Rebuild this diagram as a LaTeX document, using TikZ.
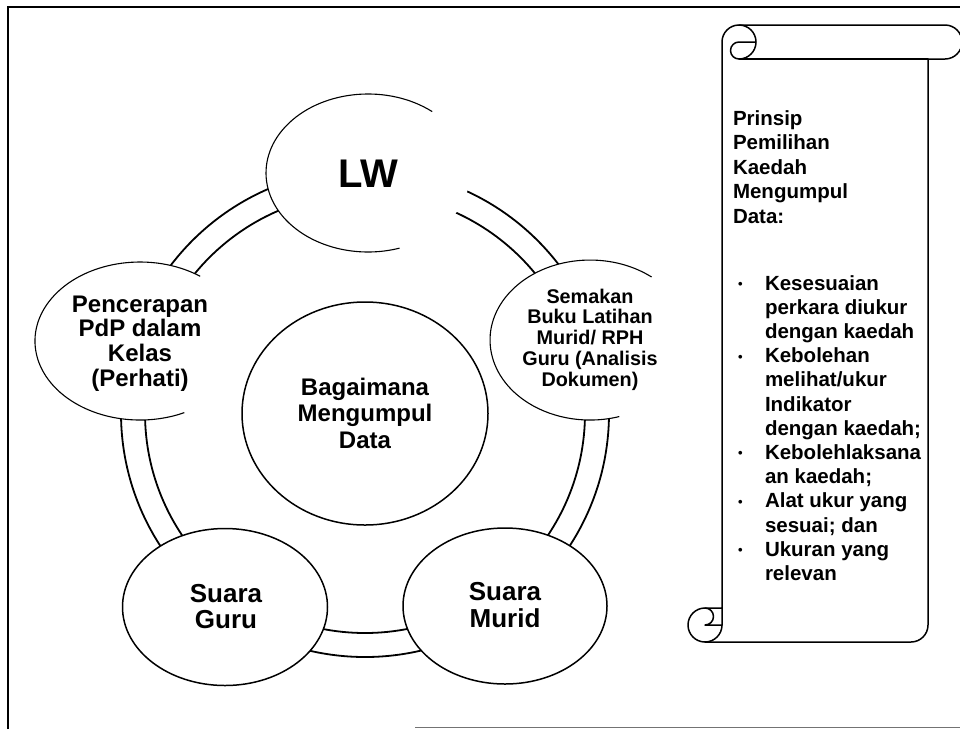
\documentclass[tikz,border=0pt]{standalone}
\usepackage{fontspec}
\setmainfont{Liberation Sans}
\usetikzlibrary{shapes.geometric}
\begin{document}
\begin{tikzpicture}[x=1pt,y=-1pt,
  bub/.style={ellipse, fill=white, draw=none, inner sep=0pt, outer sep=0pt},
  bubline/.style={bub, draw=black, line width=1.5pt},
  faint/.style={line width=1.1pt},
  ringline/.style={line width=1.8pt},
  txt/.style={inner sep=0pt, outer sep=0pt, anchor=base, font=\bfseries},
  ltxt/.style={inner sep=0pt, outer sep=0pt, anchor=base west, font=\bfseries},
  scrollline/.style={line width=1.5pt, line join=round, line cap=round},
  frameline/.style={line width=2.5pt}]
\useasboundingbox (0,0) rectangle (960,729);
% frame
\draw[frameline] (8,729) -- (8,7) -- (962,7);
\draw[line width=1pt, black!55] (415,727) -- (962,727);
% ring
\coordinate (ringc) at (365,413);
\draw[ringline] (ringc) circle[radius=244];
\draw[ringline] (ringc) circle[radius=220];
% centre
\node[bubline, minimum width=246pt, minimum height=223pt] (mid) at (365,413.5) {};
% outer bubbles
\node[bub, minimum width=204pt, minimum height=158pt] (lw) at (368,173) {};
\node[bub, minimum width=210pt, minimum height=158pt] (pen) at (140,341) {};
\node[bub, minimum width=200pt, minimum height=160pt] (sem) at (590,340) {};
\node[bubline, minimum width=205pt, minimum height=157pt] (guru) at (225,607) {};
\node[bubline, minimum width=204pt, minimum height=156pt] (murid) at (505,606) {};
% partial (faded) outlines
\draw[faint] (432.2,111.6) arc[start angle=-51, end angle=-288, x radius=102, y radius=79];
\draw[faint] (200.2,276.3) arc[start angle=-55, end angle=-295, x radius=105, y radius=79];
\draw[faint] (651.6,277) arc[start angle=-52, end angle=-287, x radius=100, y radius=80];
% texts
\node[txt] (tlw) at (368,187) {\fontsize{40}{44}\selectfont LW};
\node[txt] (tmid) at (365,395) {\fontsize{24}{26.5}\selectfont\begin{tabular}[t]{@{}c@{}}Bagaimana\\Mengumpul\\Data\end{tabular}};
\node[txt] (tpen) at (140,312) {\fontsize{24}{24.3}\selectfont\begin{tabular}[t]{@{}c@{}}Pencerapan\\PdP dalam\\Kelas\\(Perhati)\end{tabular}};
\node[txt] (tsem) at (590,303) {\fontsize{19.8}{20.8}\selectfont\begin{tabular}[t]{@{}c@{}}Semakan\\Buku Latihan\\Murid/ RPH\\Guru (Analisis\\Dokumen)\end{tabular}};
\node[txt] (tguru) at (226,602) {\fontsize{26}{26}\selectfont\begin{tabular}[t]{@{}c@{}}Suara\\Guru\end{tabular}};
\node[txt] (tmurid) at (505,600) {\fontsize{26}{27}\selectfont\begin{tabular}[t]{@{}c@{}}Suara\\Murid\end{tabular}};
% scroll body
\filldraw[scrollline, fill=white] (722,608) -- (722,42) arc[start angle=180, delta angle=90, radius=17]
  -- (945,25) arc[start angle=270, delta angle=180, radius=17]
  -- (928,59) -- (928,625) arc[start angle=0, delta angle=90, radius=17]
  -- (705,642) arc[start angle=90, delta angle=180, radius=17] -- cycle;
% scroll curls
\draw[scrollline] (739,25) arc[start angle=270, delta angle=180, radius=17]
  arc[start angle=90, delta angle=180, radius=8.5] -- (756,42);
\draw[scrollline] (928,59) -- (739,59);
\draw[scrollline] (705,608) arc[start angle=270, delta angle=180, radius=8.5] -- (722,625);
\draw[scrollline] (705,642) arc[start angle=90, delta angle=-90, radius=17] -- (722,608);
% scroll text
\node[ltxt] (thead) at (733,125) {\fontsize{20.5}{24.5}\selectfont\begin{tabular}[t]{@{}l@{}}Prinsip\\Pemilihan\\Kaedah\\Mengumpul\\Data:\end{tabular}};
\newcommand{\bulmark}{\makebox[27pt][l]{\fontsize{13}{13}\selectfont\raisebox{1.5pt}{•}}}
\node[ltxt] (tlist) at (738,290) {\fontsize{20.5}{24.2}\selectfont\begin{tabular}[t]{@{}l@{}l@{}}
\bulmark & Kesesuaian\\
 & perkara diukur\\
 & dengan kaedah\\
\bulmark & Kebolehan\\
 & melihat/ukur\\
 & Indikator\\
 & dengan kaedah;\\
\bulmark & Kebolehlaksana\\
 & an kaedah;\\
\bulmark & Alat ukur yang\\
 & sesuai; dan\\
\bulmark & Ukuran yang\\
 & relevan
\end{tabular}};
\end{tikzpicture}
\end{document}
